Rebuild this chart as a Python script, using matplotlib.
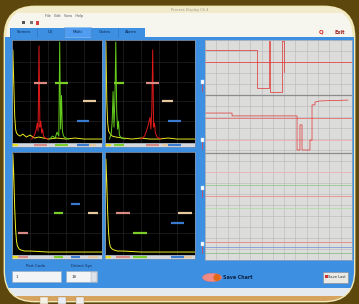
import numpy as np
import matplotlib.pyplot as plt
from matplotlib.patches import FancyBboxPatch, Rectangle, Ellipse, Circle

# ---- data (x: % of screen range, y: % amplitude) ----
tabs = ["Screen", "UE", "Multi", "Gates", "Alarm"]

# top-left A-scan
tl_yel_x = [0, 1, 2, 3, 4, 5, 7, 9, 12, 16, 20, 25, 30, 40, 50, 60, 70, 80, 90, 100]
tl_yel_y = [0, 92, 58, 25, 12, 8, 6, 5, 7, 4, 6, 3, 4, 2, 3, 2, 3, 2, 2, 2]
tl_red_x = [22, 25, 27, 28, 29, 30, 31, 32, 33, 34, 35, 37, 40]
tl_red_y = [2, 6, 12, 18, 10, 96, 14, 20, 8, 12, 5, 3, 2]
tl_grn_x = [42, 45, 48, 50, 52, 53, 54, 55, 56, 57, 58, 60, 63]
tl_grn_y = [2, 5, 3, 9, 5, 100, 12, 46, 10, 6, 4, 3, 2]
tl_gate_x0 = [24, 48, 79, 72]
tl_gate_x1 = [39, 62, 93, 86]
tl_gate_y = [59, 59, 40, 20]

# top-right A-scan
tr_yel_x = [0, 1, 2, 3, 4, 6, 8, 12, 20, 30, 40, 50, 60, 70, 80, 90, 100]
tr_yel_y = [0, 100, 40, 18, 10, 7, 5, 4, 3, 2, 3, 2, 2, 3, 2, 2, 2]
tr_grn_x = [5, 7, 8, 9, 10, 11, 12, 13, 14, 15, 16, 18, 22]
tr_grn_y = [2, 8, 20, 50, 14, 42, 100, 30, 12, 20, 6, 3, 2]
tr_red_x = [40, 44, 46, 48, 50, 51, 52, 53, 54, 55, 56, 58, 62]
tr_red_y = [2, 5, 10, 16, 24, 12, 30, 92, 14, 18, 8, 4, 2]
tr_gate_x0 = [45, 10, 63, 70]
tr_gate_x1 = [60, 21, 76, 84]
tr_gate_y = [59, 59, 40, 20]

# bottom-left A-scan
bl_yel_x = [0, 1, 2, 3, 4, 5, 6, 8, 10, 14, 20, 40, 60, 80, 100]
bl_yel_y = [0, 100, 78, 45, 24, 12, 7, 4, 3, 2, 2, 1, 1, 1, 1]
bl_gate_x0 = [7, 47, 84, 66]
bl_gate_x1 = [18, 57, 96, 76]
bl_gate_y = [20, 40, 40, 50]

# bottom-right A-scan
br_yel_x = [0, 1, 2, 3, 4, 5, 6, 8, 10, 14, 20, 40, 60, 80, 100]
br_yel_y = [0, 95, 70, 40, 20, 10, 6, 4, 3, 2, 2, 1, 1, 1, 1]
br_gate_x0 = [12, 31, 81, 73]
br_gate_x1 = [28, 47, 97, 88]
br_gate_y = [40, 20, 40, 30]

# right strip chart (x: % of time axis, y: % of panel height)
trace1_x = [0, 35.4, 35.4, 43.5, 43.5, 44.2, 44.2, 52.4, 52.4, 53.5, 53.5]
trace1_y = [95.5, 95.5, 78, 78, 99.5, 99.5, 76.4, 76.4, 99.5, 99.5, 85.5]
trace2_x = [0, 18.4, 18.4, 62.6, 62.6, 64.6, 64.6, 66, 66, 71.4, 71.4, 72.8, 72.8, 74.8, 74.8, 78.2, 97.3]
trace2_y = [66.8, 66.8, 65.5, 65.5, 50, 50, 61.4, 61.4, 50, 50, 54.5, 54.5, 70.5, 70.5, 71.8, 72.3, 72.7]
limit_y = [90, 64.5, 54.5, 40, 34, 29, 23.6, 8.2, 5.9, 3.2]
limit_c = ['#e84848', '#e87070', '#f2b0b0', '#f2b4b4', '#90c890', '#ec8a8a',
           '#b4dcac', '#ec8080', '#8098d8', '#88c088']
sep_y = [75, 48.6]

gate_cols = ['#d98a84', '#7ccc2a', '#e6c8a0', '#3a7ad0']

W, H = 359, 304
fig = plt.figure(figsize=(3.59, 3.04), dpi=100)
fig.patch.set_facecolor('#5e470c')


def box(x0, y0, x1, y1):
    return [x0 / W, 1 - y1 / H, (x1 - x0) / W, (y1 - y0) / H]


# background canvas in pixel units
bg = fig.add_axes([0, 0, 1, 1])
bg.set_xlim(0, W)
bg.set_ylim(H, 0)
bg.axis('off')

screen = FancyBboxPatch((5, 7), 349, 294, boxstyle='round,pad=0,rounding_size=30',
                        fc='#f6f5ee', ec='#f2e9b8', lw=2)
bg.add_patch(screen)
parts = [
    Rectangle((5, 7), 349, 6, fc='#f1ebcc'),
    Rectangle((5, 37), 349, 251, fc='#3d8fe2'),
    Rectangle((5, 288), 349, 8, fc='#e4eaf0'),
    Rectangle((5, 296), 349, 8, fc='#d6a45e'),
]
for p in parts:
    bg.add_patch(p)
    p.set_clip_path(screen)

# title / menu
bg.text(190, 9.5, "Process Display Ch 4", fontsize=2.6, color='#9a9a90', ha='center', va='center')
bg.text(45, 16, "File   Edit   View   Help", fontsize=2.4, color='#555555', ha='left', va='center')
bg.add_patch(Rectangle((22, 21), 3, 3, fc='#555555'))
bg.add_patch(Rectangle((30, 21), 3, 3, fc='#777777'))
bg.add_patch(Rectangle((36, 20.5), 3, 4, fc='#d04040'))

# tabs
bg.add_patch(Rectangle((10, 28), 135, 9, fc='#3d8fe2'))
tab_w = 27
for i, t in enumerate(tabs):
    x0 = 10 + i * tab_w
    if t == "Multi":
        bg.add_patch(Rectangle((x0, 26.5), tab_w, 10.5, fc='#4f9cf0', ec='#8fc0f0', lw=0.4))
    bg.plot([x0, x0], [28, 37], color='#2a6fc0', lw=0.4)
    bg.text(x0 + tab_w / 2, 32, t, fontsize=3, color='#0c2a55', ha='center', va='center')
bg.text(321, 32.5, "Q", fontsize=4, color='#e02020', fontweight='bold', ha='center', va='center')
bg.text(340, 32.5, "Exit", fontsize=3.5, color='#a02020', fontweight='bold', ha='center', va='center')

# slider knobs left of the strip chart
for ky in [82, 140, 188, 244]:
    bg.add_patch(Rectangle((200.5, ky - 2), 3, 3.5, fc='white', ec='#c0d8f0', lw=0.3))
    bg.plot([201.5, 201.5], [ky + 2, ky + 9], color='#e04040', lw=0.5)

# bottom controls
bg.text(36, 266, "Part Code", fontsize=2.8, color='#102850', ha='center', va='center')
bg.text(81, 266, "Detect Sys", fontsize=2.8, color='#102850', ha='center', va='center')
bg.add_patch(Rectangle((12, 271), 49, 11, fc='#f2f4f6', ec='#9aa8b8', lw=0.4))
bg.add_patch(Rectangle((66, 271), 31, 11, fc='#f2f4f6', ec='#9aa8b8', lw=0.4))
bg.add_patch(Rectangle((91, 271.5), 5.5, 10, fc='#dde2e8', ec='#9aa8b8', lw=0.3))
bg.text(16, 276.5, "1", fontsize=2.8, color='#333333', va='center')
bg.text(72, 276.5, "18", fontsize=2.8, color='#333333', va='center')
bg.add_patch(Ellipse((212, 277.5), 19, 8.5, fc='#f08a84', ec='#e07070', lw=0.3))
bg.add_patch(Circle((217, 277.5), 3.6, fc='#e06818'))
bg.text(238, 277.5, "Save Chart", fontsize=3.4, color='#0c2040', fontweight='bold',
        ha='center', va='center')
bg.add_patch(Rectangle((323, 272), 25, 11, fc='#e8e8e4', ec='#8a8a8a', lw=0.4))
bg.add_patch(Rectangle((325, 275), 2.5, 3, fc='#d03030'))
bg.text(337, 277.5, "Save Last", fontsize=2.6, color='#303030', ha='center', va='center')

# taskbar icons
for ix, ic in [(40, '#f4f0e4'), (58, '#e8eef8'), (76, '#eeeeee')]:
    bg.add_patch(Rectangle((ix, 297), 8, 7, fc=ic, ec='#b09060', lw=0.3))


def ascan(rect, traces, gx0, gx1, gy):
    ax = fig.add_axes(box(*rect))
    ax.set_facecolor('black')
    for xs, ys, c in traces:
        ax.plot(xs, ys, color=c, lw=0.7)
    for a, b, y, c in zip(gx0, gx1, gy, gate_cols):
        ax.plot([a, b], [y, y], color=c, lw=1.6, solid_capstyle='butt')
    ax.set_xlim(0, 100)
    ax.set_ylim(-2, 102)
    ax.set_xticks([20, 40, 60, 80])
    ax.set_yticks([20, 40, 60, 80])
    ax.grid(True, color='#2c2c2c', lw=0.4)
    ax.tick_params(length=0, labelbottom=False, labelleft=False)
    for s in ax.spines.values():
        s.set_color('#7f93aa')
        s.set_linewidth(0.6)
    # scroll strip under the plot with gate positions
    sx = fig.add_axes(box(rect[0], rect[3], rect[2], rect[3] + 4))
    sx.set_facecolor('#d4d8dc')
    sx.set_xlim(0, 100)
    sx.set_ylim(0, 1)
    for a, b, c in zip(gx0, gx1, gate_cols):
        sx.plot([a, b], [0.5, 0.5], color=c, lw=1.6, solid_capstyle='butt')
    sx.plot([0, 6], [0.5, 0.5], color='#e6e020', lw=1.6)
    sx.set_xticks([])
    sx.set_yticks([])
    for s in sx.spines.values():
        s.set_color('#8090a0')
        s.set_linewidth(0.4)
    return ax


ascan((12, 40, 102, 143), [(tl_yel_x, tl_yel_y, '#e8e820'), (tl_red_x, tl_red_y, '#e01818'),
                           (tl_grn_x, tl_grn_y, '#64cc1c')], tl_gate_x0, tl_gate_x1, tl_gate_y)
ascan((105, 40, 195, 143), [(tr_yel_x, tr_yel_y, '#e8e820'), (tr_grn_x, tr_grn_y, '#64cc1c'),
                            (tr_red_x, tr_red_y, '#e01818')], tr_gate_x0, tr_gate_x1, tr_gate_y)
ascan((12, 152, 102, 255), [(bl_yel_x, bl_yel_y, '#f0f020')], bl_gate_x0, bl_gate_x1, bl_gate_y)
ascan((105, 152, 195, 255), [(br_yel_x, br_yel_y, '#f0f020')], br_gate_x0, br_gate_x1, br_gate_y)

# strip chart on the right
rp = fig.add_axes(box(205, 40, 352, 260))
rp.set_facecolor('#dcdcdb')
rp.set_xlim(0, 100)
rp.set_ylim(0, 100)
rp.set_xticks(np.linspace(0, 100, 14))
rp.set_yticks(np.linspace(0, 100, 21))
rp.grid(True, color='#b8b8b8', lw=0.4)
rp.tick_params(length=0, labelbottom=False, labelleft=False)
for y in sep_y:
    rp.axhline(y, color='#8c8c8c', lw=0.9)
for y, c in zip(limit_y, limit_c):
    rp.axhline(y, color=c, lw=0.6)
rp.plot(trace1_x, trace1_y, color='#e03030', lw=0.5)
rp.plot(trace2_x, trace2_y, color='#e03030', lw=0.5)
for s in rp.spines.values():
    s.set_color('#9aa8b8')
    s.set_linewidth(0.5)

fig.savefig('out.png', dpi=100, facecolor=fig.get_facecolor())
